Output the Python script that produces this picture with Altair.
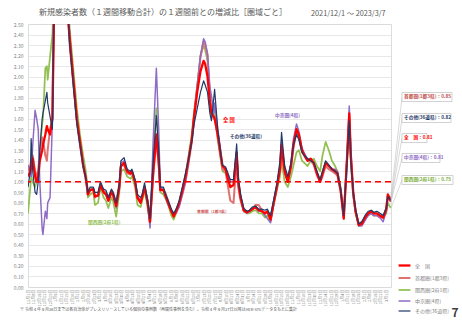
import altair as alt
import pandas as pd

FONT = "Noto Sans CJK JP"

dates = [
    "2021/12/01", "2021/12/04", "2021/12/05", "2021/12/07", "2021/12/10", "2021/12/12", "2021/12/14",
    "2021/12/16", "2021/12/19", "2021/12/20", "2021/12/23", "2021/12/25", "2021/12/26", "2021/12/29",
    "2022/01/01", "2022/01/03", "2022/01/06", "2022/01/09", "2022/01/13", "2022/01/17", "2022/01/20",
    "2022/01/21", "2022/01/23", "2022/01/26", "2022/01/29",
    "2022/02/01", "2022/02/05", "2022/02/09", "2022/02/12", "2022/02/14", "2022/02/15", "2022/02/18",
    "2022/02/22", "2022/02/24", "2022/02/28",
    "2022/03/03", "2022/03/07", "2022/03/10", "2022/03/13", "2022/03/17", "2022/03/19", "2022/03/23",
    "2022/03/27", "2022/03/29",
    "2022/04/02", "2022/04/06", "2022/04/10", "2022/04/12", "2022/04/16", "2022/04/19", "2022/04/23",
    "2022/04/25", "2022/04/28",
    "2022/05/02", "2022/05/05", "2022/05/09", "2022/05/13", "2022/05/16", "2022/05/18", "2022/05/22",
    "2022/05/24", "2022/05/28",
    "2022/06/01", "2022/06/04", "2022/06/07", "2022/06/11", "2022/06/15", "2022/06/19", "2022/06/23",
    "2022/06/27", "2022/06/30",
    "2022/07/04", "2022/07/08", "2022/07/12", "2022/07/14", "2022/07/17", "2022/07/20", "2022/07/22",
    "2022/07/25", "2022/07/26", "2022/07/30",
    "2022/08/03", "2022/08/05", "2022/08/09", "2022/08/11", "2022/08/15", "2022/08/19", "2022/08/23",
    "2022/08/25", "2022/08/28",
    "2022/09/01", "2022/09/05", "2022/09/08", "2022/09/12", "2022/09/16", "2022/09/20", "2022/09/24",
    "2022/09/28",
    "2022/10/01", "2022/10/05", "2022/10/09", "2022/10/13", "2022/10/17", "2022/10/19", "2022/10/23",
    "2022/10/27", "2022/10/31",
    "2022/11/03", "2022/11/07", "2022/11/10", "2022/11/14", "2022/11/17", "2022/11/21", "2022/11/25",
    "2022/11/29",
    "2022/12/03", "2022/12/07", "2022/12/10", "2022/12/14", "2022/12/18", "2022/12/22", "2022/12/26",
    "2022/12/29",
    "2023/01/02", "2023/01/06", "2023/01/10", "2023/01/13", "2023/01/15", "2023/01/18", "2023/01/21",
    "2023/01/25", "2023/01/29",
    "2023/02/02", "2023/02/06", "2023/02/10", "2023/02/13", "2023/02/17", "2023/02/21", "2023/02/25",
    "2023/03/01", "2023/03/03", "2023/03/06", "2023/03/07",
]

zenkoku = [
    1.05, 1.10, 1.15, 1.22, 1.05, 1.00, 1.05, 1.20, 1.30, 1.35, 1.45, 1.53, 1.50, 1.45,
    1.60, 2.60, 3.60, 4.80, 5.20, 3.60, 2.70, 2.55, 2.35, 2.10, 1.85,
    1.60, 1.38, 1.16, 1.05, 0.95, 0.88, 0.92, 0.93, 0.86, 0.87,
    0.97, 0.90, 0.88, 0.82, 0.90, 0.88, 0.77, 0.95, 1.15,
    1.18, 1.10, 1.08, 1.10, 1.00, 0.85, 0.80, 0.85, 0.95,
    0.80, 0.62, 1.10, 1.45, 1.20, 0.92, 0.92, 0.88, 0.80,
    0.72, 0.67, 0.72, 0.80, 0.92, 1.05, 1.22, 1.40, 1.62,
    1.86, 2.05, 2.15, 2.12, 2.00, 1.75, 1.65, 1.62, 1.60, 1.45,
    1.25, 1.15, 1.12, 1.05, 0.95, 0.97, 1.28, 1.00, 0.85,
    0.73, 0.71, 0.72, 0.74, 0.76, 0.73, 0.72, 0.70,
    0.72, 0.64, 0.80, 0.95, 1.12, 1.35, 1.10, 1.00, 1.15,
    1.35, 1.50, 1.45, 1.30, 1.25, 1.20, 1.22, 1.18,
    1.08, 1.00, 1.08, 1.18, 1.15, 1.12, 1.10, 1.08,
    0.92, 0.65, 1.20, 1.65, 1.25, 0.90, 0.72, 0.59, 0.60,
    0.66, 0.70, 0.72, 0.70, 0.70, 0.68, 0.66,
    0.74, 0.88, 0.83, 0.81,
]

shutoken = [
    1.10, 1.15, 1.20, 1.25, 1.10, 1.05, 1.10, 1.30, 1.42, 1.40, 1.25, 1.20, 1.30, 1.50,
    1.60, 2.70, 3.80, 4.60, 5.50, 3.80, 2.80, 2.60, 2.30, 2.05, 1.82,
    1.58, 1.35, 1.15, 1.05, 0.95, 0.88, 0.93, 0.92, 0.85, 0.88,
    0.98, 0.91, 0.90, 0.85, 0.92, 0.90, 0.80, 0.98, 1.15,
    1.16, 1.08, 1.07, 1.08, 1.00, 0.86, 0.82, 0.86, 0.95,
    0.82, 0.64, 1.05, 1.40, 1.15, 0.92, 0.93, 0.90, 0.82,
    0.73, 0.68, 0.72, 0.78, 0.88, 1.00, 1.18, 1.38, 1.62,
    1.90, 2.18, 2.33, 2.30, 2.20, 1.80, 1.70, 1.60, 1.62, 1.42,
    1.22, 1.12, 1.10, 1.00, 0.82, 0.80, 1.22, 0.95, 0.82,
    0.72, 0.71, 0.72, 0.74, 0.78, 0.78, 0.73, 0.70,
    0.72, 0.66, 0.80, 0.95, 1.12, 1.30, 1.08, 1.00, 1.15,
    1.32, 1.48, 1.42, 1.28, 1.25, 1.20, 1.20, 1.16,
    1.06, 1.00, 1.05, 1.15, 1.12, 1.10, 1.08, 1.06,
    0.92, 0.66, 1.18, 1.60, 1.22, 0.88, 0.72, 0.60, 0.62,
    0.66, 0.70, 0.70, 0.68, 0.68, 0.66, 0.66,
    0.75, 0.87, 0.85, 0.85,
]

kansai = [
    0.70, 0.95, 1.05, 1.00, 0.95, 1.00, 1.05, 1.30, 1.55, 1.60, 2.08, 2.10, 1.97, 2.19,
    2.40, 2.80, 3.90, 5.00, 5.30, 3.90, 2.90, 2.70, 2.45, 2.20, 1.95,
    1.70, 1.45, 1.25, 1.12, 1.00, 0.85, 0.88, 0.90, 0.78, 0.80,
    0.95, 0.85, 0.82, 0.75, 0.85, 0.82, 0.67, 0.90, 1.10,
    1.12, 1.05, 1.03, 1.05, 0.95, 0.78, 0.76, 0.82, 0.92,
    0.75, 0.60, 1.20, 1.70, 1.30, 0.90, 0.88, 0.85, 0.78,
    0.68, 0.64, 0.70, 0.80, 0.92, 1.05, 1.25, 1.45, 1.68,
    1.92, 2.20, 2.30, 2.25, 2.15, 1.85, 1.62, 1.65, 1.68, 1.40,
    1.20, 1.10, 1.08, 1.05, 1.00, 1.00, 1.25, 1.00, 0.85,
    0.72, 0.70, 0.70, 0.72, 0.73, 0.70, 0.70, 0.66,
    0.68, 0.62, 0.78, 0.92, 1.05, 1.20, 1.00, 0.95, 1.05,
    1.15, 1.28, 1.30, 1.20, 1.18, 1.15, 1.20, 1.22,
    1.15, 1.10, 1.25, 1.38, 1.30, 1.20, 1.15, 1.10,
    0.95, 0.68, 1.20, 1.62, 1.20, 0.88, 0.70, 0.58, 0.60,
    0.65, 0.68, 0.70, 0.70, 0.70, 0.68, 0.66,
    0.70, 0.80, 0.76, 0.75,
]

chukyo = [
    1.16, 1.10, 1.05, 1.35, 1.68, 1.60, 1.50, 1.00, 0.55, 0.50, 0.72, 0.65, 0.80, 0.85,
    1.60, 2.70, 3.50, 4.50, 5.00, 3.50, 2.70, 2.60, 2.40, 2.10, 1.85,
    1.60, 1.38, 1.18, 1.06, 0.95, 0.90, 0.92, 0.94, 0.87, 0.86,
    0.97, 0.90, 0.88, 0.82, 0.90, 0.86, 0.75, 0.95, 1.18,
    1.20, 1.10, 1.08, 1.10, 1.00, 0.84, 0.82, 0.86, 0.96,
    0.78, 0.56, 1.40, 2.08, 1.50, 0.95, 0.93, 0.87, 0.78,
    0.72, 0.68, 0.70, 0.76, 0.88, 1.00, 1.20, 1.42, 1.65,
    1.92, 2.20, 2.36, 2.33, 2.22, 1.90, 1.82, 1.65, 1.75, 1.50,
    1.28, 1.15, 1.12, 1.08, 1.00, 1.00, 1.28, 1.00, 0.85,
    0.73, 0.70, 0.72, 0.75, 0.75, 0.72, 0.72, 0.68,
    0.65, 0.61, 0.78, 0.95, 1.15, 1.38, 1.10, 1.02, 1.18,
    1.40, 1.55, 1.48, 1.32, 1.27, 1.22, 1.22, 1.18,
    1.08, 1.00, 1.08, 1.18, 1.15, 1.12, 1.12, 1.10,
    0.93, 0.65, 1.25, 1.72, 1.30, 0.92, 0.72, 0.58, 0.58,
    0.63, 0.68, 0.70, 0.68, 0.68, 0.66, 0.62,
    0.72, 0.85, 0.82, 0.81,
]

sonota = [
    0.95, 1.10, 1.41, 1.10, 0.90, 0.88, 1.00, 1.30, 1.60, 1.65, 1.77, 1.85, 1.75, 1.62,
    1.50, 2.60, 3.40, 4.60, 5.10, 3.50, 2.70, 2.55, 2.30, 2.05, 1.80,
    1.55, 1.35, 1.15, 1.05, 0.97, 0.90, 0.95, 0.95, 0.90, 0.90,
    1.00, 0.93, 0.92, 0.85, 0.93, 0.90, 0.80, 0.98, 1.20,
    1.23, 1.12, 1.10, 1.12, 1.02, 0.88, 0.85, 0.88, 0.99,
    0.82, 0.65, 1.20, 1.63, 1.30, 0.95, 0.95, 0.90, 0.82,
    0.74, 0.70, 0.74, 0.82, 0.95, 1.08, 1.22, 1.38, 1.55,
    1.70, 1.85, 1.96, 1.92, 1.85, 1.65, 1.58, 1.80, 1.88, 1.50,
    1.25, 1.16, 1.14, 1.10, 1.02, 1.02, 1.36, 1.05, 0.88,
    0.75, 0.72, 0.73, 0.76, 0.77, 0.74, 0.74, 0.73,
    0.74, 0.68, 0.83, 0.98, 1.20, 1.47, 1.15, 1.05, 1.18,
    1.35, 1.45, 1.40, 1.28, 1.25, 1.22, 1.20, 1.18,
    1.10, 1.02, 1.10, 1.20, 1.16, 1.12, 1.10, 1.08,
    0.93, 0.68, 1.15, 1.58, 1.20, 0.90, 0.74, 0.60, 0.62,
    0.68, 0.72, 0.73, 0.71, 0.72, 0.70, 0.68,
    0.75, 0.86, 0.83, 0.82,
]

names = ["全　国", "首都圏(1都3県)", "関西圏(2府1県)", "中京圏(4県)", "その他(36道県)"]
colors = ["#FF0000", "#E0716F", "#92C050", "#8E6BC4", "#1F3A68"]
widths = [2.3, 1.2, 1.2, 1.2, 1.8]
series = dict(zip(names, [zenkoku, shutoken, kansai, chukyo, sonota]))
for n, vals in series.items():
    assert len(vals) == len(dates), (n, len(vals), len(dates))

draw_order = [names[2], names[1], names[3], names[0], names[4]]
rows = []
for n in draw_order:
    for d, v in zip(dates, series[n]):
        rows.append({"date": d, "series": n, "value": v})
df = pd.DataFrame(rows)

OX, OY = 28, 24  # plot origin on the page
W, H = 363, 263

def dt(s):
    t = pd.Timestamp(s)
    return alt.DateTime(year=t.year, month=t.month, date=t.day)

tick_vals = [dt(d) for d in pd.date_range("2021-12-01", "2023-03-07", freq="7D")]
y_ticks = [round(i * 0.1, 2) for i in range(26)]

leg = dict(orient="none", legendX=369, legendY=234, title=None, symbolType="stroke",
           symbolSize=140, labelFontSize=5, labelFont=FONT, labelColor="#7f7f7f",
           rowPadding=0, labelOffset=3, padding=0)

xaxis = alt.Axis(values=tick_vals, format="%-m月%-d日", labelAngle=270, labelFontSize=4,
                 labelFont=FONT, labelColor="#7f7f7f", grid=False, ticks=False,
                 domain=False, labelPadding=2, title=None, labelOverlap=False,
                 labelFlush=False, labelBound=False, labelSeparation=0)
yaxis = alt.Axis(values=y_ticks, format=".2f",
                 labelFontSize=5, labelFont=FONT, labelColor="#7f7f7f",
                 gridColor="#d9d9d9", gridWidth=0.6, ticks=False, domain=False,
                 labelPadding=5, title=None, labelOverlap=False, labelFlush=False,
                 labelBound=False, labelSeparation=0)
xscale = alt.Scale(domain=[dt("2021-12-01"), dt("2023-03-07")])
yscale = alt.Scale(domain=[0, 2.5], nice=False)

lines = alt.Chart(df).mark_line(clip=True, strokeJoin="round").encode(
    x=alt.X("date:T", scale=xscale, axis=xaxis),
    y=alt.Y("value:Q", scale=yscale, axis=yaxis),
    color=alt.Color("series:N", scale=alt.Scale(domain=names, range=colors), legend=alt.Legend(**leg)),
    strokeWidth=alt.StrokeWidth("series:N", scale=alt.Scale(domain=names, range=widths),
                                legend=alt.Legend(**leg)),
)

ref = alt.Chart(pd.DataFrame({"value": [1.0]})).mark_rule(
    color="#FF0000", strokeDash=[6, 4], strokeWidth=1.6).encode(
    y=alt.Y("value:Q", scale=yscale, axis=yaxis))


def text(t, x, y, size, color, weight="normal", align="left"):
    return alt.Chart(pd.DataFrame({"t": [t]})).mark_text(
        align=align, baseline="middle", fontSize=size, font=FONT, color=color,
        fontWeight=weight).encode(x=alt.value(x - OX), y=alt.value(y - OY), text="t:N")


layers = [lines, ref]

# in-chart labels
layers += [
    text("全 国", 223, 120, 5.3, "#FF0000", "bold"),
    text("その他(36道県)", 230, 137, 4.6, "#1F3A68", "bold"),
    text("中京圏(4県)", 275, 116, 4.7, "#8E6BC4", "bold"),
    text("首都圏（1都3県）", 197, 212, 3.9, "#D05A5A", "bold"),
    text("関西圏(2府1県)", 88, 223, 4.7, "#92C050", "bold"),
]

# call-outs with latest values
call = [
    (names[1], 97, 50, "#C0504D"),
    (names[4], 118, 49, "#1F3A68"),
    (names[0], 138, 25, "#FF0000"),
    (names[3], 158, 38, "#8E6BC4"),
    (names[2], 180, 51, "#7AAE3A"),
]
for n, cy, bw, col in call:
    last = series[n][-1]
    end = pd.DataFrame({"date": [dates[-1]], "value": [last]})
    layers.append(alt.Chart(end).mark_rule(color="#bfbfbf", strokeWidth=0.6).encode(
        x=alt.X("date:T", scale=xscale, axis=xaxis), y=alt.Y("value:Q", scale=yscale, axis=yaxis),
        x2=alt.value(402 - OX), y2=alt.value(cy - OY)))
    layers.append(alt.Chart(pd.DataFrame({"a": [0]})).mark_rect(
        fill="white", stroke="#bfbfbf", strokeWidth=0.7).encode(
        x=alt.value(402 - OX), x2=alt.value(402 + bw - OX),
        y=alt.value(cy - 4.5 - OY), y2=alt.value(cy + 4.5 - OY)))
    layers.append(text(f"{n}：{last:.2f}", 404, cy, 4.7, col, "bold"))

# titles, footnote, page number
layers += [
    text("新規感染者数（１週間移動合計）の１週間前との増減比［圏域ごと］", 39, 13, 8, "#595959"),
    text("2021/12/1 ～ 2023/3/7", 311, 13.5, 7.3, "#595959"),
    text("※ 令和４年９月26日までは各自治体がプレスリリースしている個別の事例数（再陽性事例を含む）。"
         "令和４年９月27日以降はHER-SYSデータをもとに集計", 20, 310, 4, "#595959"),
    text("7", 455, 313, 12, "#404040", "bold", "center"),
]

chart = alt.layer(*layers).properties(
    width=W, height=H,
    padding={"left": OX, "top": OY, "right": 462 - OX - W, "bottom": 320 - OY - H},
    autosize=alt.AutoSizeParams(type="none"),
).configure_view(stroke=None).configure(background="white").configure_axis(labelOverlap=False)

chart.save("out.html", embed_options={"renderer": "svg", "actions": False})
